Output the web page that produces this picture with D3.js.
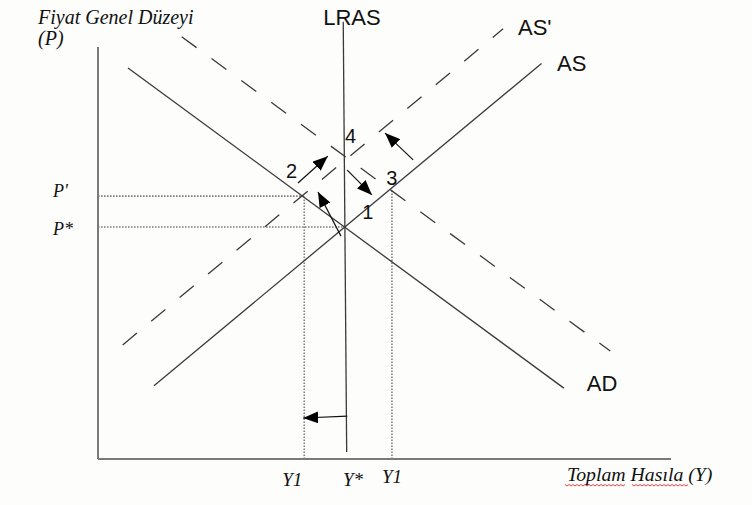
<!DOCTYPE html>
<html><head><meta charset="utf-8">
<script src="https://cdn.jsdelivr.net/npm/d3@7/dist/d3.min.js"></script>
<style>html,body{margin:0;padding:0;background:#fdfdfc;}svg{display:block;}</style>
</head><body>
<script>
// ---- data (conceptual AD-AS diagram, in axis units 0..100) ----
const curveNames  = ["AD", "AD2", "AS", "AS'", "LRAS"];
const curveStart  = [[5.24, 94.9], [14.6, 102.5], [9.77, 17.8], [4.31, 27.7], [42.8, 106.1]];
const curveEnd    = [[81.3, 17.2], [89.4, 26.2], [77.4, 96.0], [70.7, 104.4], [43.4, 1.7]];
const curveLabels = ["AD", "", "AS", "AS'", "LRAS"];
const curveLabelAt = [[85.3, 16.4], null, [80.1, 94.1], [73.3, 102.8], [39.3, 105.3]];

const priceLabels = ["P'", "P*"];
const priceLevels = [63.8, 56.3];
const priceReach  = [36.0, 43.1];          // output level where dotted guide ends

const outputLabels = ["Y1", "Y*", "Y1"];
const outputLevels = [36.0, 43.1, 51.3];
const outputReach  = [63.8, null, 65.3];   // price level where dotted guide ends

const pointLabels = ["1", "2", "3", "4"];
const pointLabelAt = [[46.1, 58.3], [32.8, 68.2], [50.3, 66.5], [43.1, 76.7]];

const arrowFrom = [[34.9, 67.0], [42.4, 54.1], [43.5, 70.1], [55.0, 72.6], [43.5, 10.4]];
const arrowTo   = [[40.1, 73.5], [38.4, 64.8], [47.8, 64.1], [50.1, 79.1], [35.8, 9.95]];

const yTitle = ["Fiyat Genel Düzeyi", "(P)"];
const xTitle = "Toplam Hasıla (Y)";

// ---- drawing ----
const W = 752, H = 505;
const svg = d3.select("body").append("svg").attr("width", W).attr("height", H);
svg.append("rect").attr("width", W).attr("height", H).attr("fill", "#fdfdfc");

const x = d3.scaleLinear().domain([0, 100]).range([98, 671]);
const y = d3.scaleLinear().domain([0, 100]).range([459, 47]);

const serif = "'Liberation Serif','Times New Roman',serif";
const sans = "'Liberation Sans',Arial,sans-serif";

// axes
svg.append("line").attr("x1", x(0)).attr("y1", y(100)).attr("x2", x(0)).attr("y2", y(0))
  .attr("stroke", "#7a7a7a").attr("stroke-width", 2);
svg.append("line").attr("x1", x(0)).attr("y1", y(0)).attr("x2", x(100)).attr("y2", y(0))
  .attr("stroke", "#7a7a7a").attr("stroke-width", 2);

// dotted guides
const dotted = {stroke: "#7f7f7f", "stroke-width": 1.6, "stroke-dasharray": "1.6,1.4"};
priceLevels.forEach((p, i) => {
  const l = svg.append("line").attr("x1", x(0)).attr("y1", y(p)).attr("x2", x(priceReach[i])).attr("y2", y(p));
  Object.entries(dotted).forEach(([k, v]) => l.attr(k, v));
});
outputLevels.forEach((q, i) => {
  if (outputReach[i] == null) return;
  const l = svg.append("line").attr("x1", x(q)).attr("y1", y(0)).attr("x2", x(q)).attr("y2", y(outputReach[i]));
  Object.entries(dotted).forEach(([k, v]) => l.attr(k, v));
});

// curves
curveNames.forEach((n, i) => {
  const dashed = n === "AD2" || n === "AS'";
  svg.append("line")
    .attr("x1", x(curveStart[i][0])).attr("y1", y(curveStart[i][1]))
    .attr("x2", x(curveEnd[i][0])).attr("y2", y(curveEnd[i][1]))
    .attr("stroke", "#3a3a3a").attr("stroke-width", 1.3)
    .attr("stroke-dasharray", dashed ? "18.5,18.5" : null);
  if (curveLabels[i]) {
    svg.append("text").attr("x", x(curveLabelAt[i][0])).attr("y", y(curveLabelAt[i][1]))
      .attr("font-family", sans).attr("font-size", 22).attr("fill", "#111")
      .text(curveLabels[i]);
  }
});

// arrows
const defs = svg.append("defs");
defs.append("marker").attr("id", "head").attr("viewBox", "0 -6 15 12")
  .attr("refX", 15).attr("refY", 0).attr("markerUnits", "userSpaceOnUse")
  .attr("markerWidth", 15).attr("markerHeight", 12).attr("orient", "auto")
  .append("path").attr("d", "M0,-6L15,0L0,6Z").attr("fill", "#000");
arrowFrom.forEach((a, i) => {
  svg.append("line").attr("x1", x(a[0])).attr("y1", y(a[1]))
    .attr("x2", x(arrowTo[i][0])).attr("y2", y(arrowTo[i][1]))
    .attr("stroke", "#111").attr("stroke-width", 1.2).attr("marker-end", "url(#head)");
});

// point labels
pointLabels.forEach((t, i) => {
  svg.append("text").attr("x", x(pointLabelAt[i][0])).attr("y", y(pointLabelAt[i][1]))
    .attr("font-family", sans).attr("font-size", 20).attr("fill", "#111").text(t);
});

// axis labels
svg.append("text").attr("x", 38).attr("y", 24).attr("font-family", serif).attr("font-style", "italic")
  .attr("font-size", 20).attr("fill", "#111").text(yTitle[0]);
svg.append("text").attr("x", 38).attr("y", 45).attr("font-family", serif).attr("font-style", "italic")
  .attr("font-size", 20).attr("fill", "#111").text(yTitle[1]);

priceLabels.forEach((t, i) => {
  svg.append("text").attr("x", 53).attr("y", y(priceLevels[i]) + (i === 0 ? 1 : 8))
    .attr("font-family", serif).attr("font-style", "italic").attr("font-size", 18)
    .attr("fill", "#111").text(t);
});
const outOffset = [-12, 8, 0];
const outBase = [486, 486, 483];
outputLabels.forEach((t, i) => {
  svg.append("text").attr("x", x(outputLevels[i]) + outOffset[i]).attr("y", outBase[i])
    .attr("text-anchor", "middle").attr("font-family", serif).attr("font-style", "italic")
    .attr("font-size", 19).attr("fill", "#111").text(t);
});

svg.append("text").attr("x", 567).attr("y", 481).attr("font-family", serif).attr("font-style", "italic")
  .attr("font-size", 19.8).attr("fill", "#111").text(xTitle);

// spell-check squiggles
function squiggle(x0, x1, yy) {
  let d = `M${x0},${yy}`;
  for (let xx = x0, k = 0; xx < x1; xx += 2, k++) d += `L${xx + 2},${yy + (k % 2 ? 0 : 1.5)}`;
  return d;
}
[[565, 625], [632, 687]].forEach(s => {
  svg.append("path").attr("d", squiggle(s[0], s[1], 484.5)).attr("fill", "none")
    .attr("stroke", "#e03030").attr("stroke-width", 0.9);
});
</script>
</body></html>
